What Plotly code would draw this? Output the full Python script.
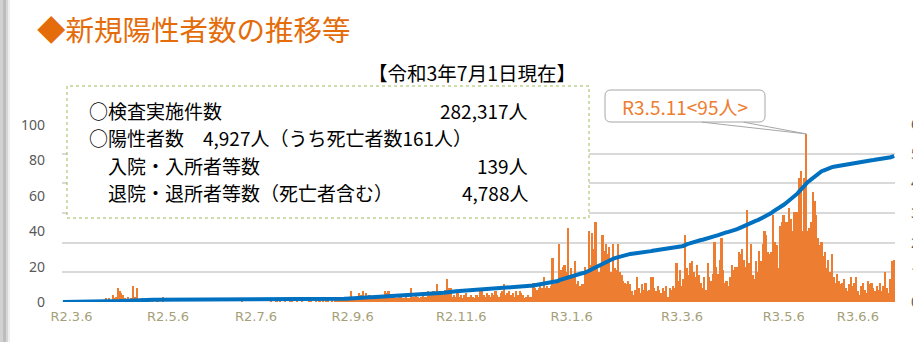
import numpy as np
import pandas as pd
import plotly.graph_objects as go

# Daily new positive cases, one list per month (2020-03-06 .. 2021-07-01)
mar_2020 = [0, 0, 0, 0, 0, 0, 0, 0, 0, 0, 0, 0, 0, 0, 0, 0, 0, 0, 0, 1, 0, 0, 0, 0, 1, 2]
apr_2020 = [1, 2, 1, 4, 2, 3, 8, 6, 5, 4, 2, 1, 3, 1, 2, 9, 3, 8, 1, 0, 2, 1, 0, 1, 1, 0, 1, 0, 0, 1]
may_2020 = [0, 0, 3, 0, 0, 0, 0, 0, 0, 0, 0, 0, 0, 0, 0, 0, 0, 0, 0, 0, 0, 0, 0, 0, 0, 0, 0, 0, 0, 0, 0]
jun_2020 = [0, 0, 0, 0, 0, 0, 0, 0, 0, 0, 0, 0, 0, 0, 0, 0, 0, 1, 0, 0, 0, 0, 0, 0, 0, 0, 0, 0, 0, 0]
jul_2020 = [0, 0, 0, 0, 1, 0, 0, 2, 0, 1, 0, 0, 1, 0, 0, 1, 2, 0, 0, 1, 0, 0, 1, 0, 0, 0, 2, 1, 0, 0, 1]
aug_2020 = [0, 1, 0, 1, 0, 1, 1, 0, 2, 0, 1, 2, 1, 1, 1, 2, 2, 1, 1, 6, 3, 3, 2, 2, 5, 4, 6, 3, 5, 2, 4]
sep_2020 = [2, 3, 2, 3, 3, 2, 2, 3, 6, 5, 6, 2, 2, 3, 2, 2, 3, 3, 2, 2, 3, 2, 2, 8, 3, 3, 4, 3, 2, 3]
oct_2020 = [4, 3, 3, 6, 4, 5, 6, 4, 10, 5, 6, 5, 4, 7, 13, 8, 8, 3, 4, 3, 5, 3, 4, 2, 4, 5, 3, 3, 4, 3, 2]
nov_2020 = [4, 3, 8, 7, 4, 3, 5, 4, 3, 5, 4, 6, 4, 3, 5, 6, 10, 4, 5, 6, 4, 5, 3, 6, 4, 6, 5, 4, 2, 3]
dec_2020 = [4, 3, 3, 11, 8, 7, 8, 9, 8, 14, 8, 9, 8, 9, 25, 10, 12, 11, 33, 18, 20, 21, 17, 42, 13, 19, 15, 23, 10, 12, 9]
jan_2021 = [10, 10, 20, 18, 40, 21, 39, 30, 45, 20, 17, 22, 38, 29, 33, 27, 31, 17, 33, 19, 18, 33, 17, 15, 12, 11, 10, 12, 10, 6, 4]
feb_2021 = [7, 14, 8, 5, 10, 7, 11, 6, 7, 14, 14, 8, 6, 9, 7, 5, 8, 6, 9, 3, 8, 7, 9, 8, 22, 12, 18, 9]
mar_2021 = [13, 38, 19, 15, 22, 23, 17, 14, 21, 15, 11, 8, 14, 7, 22, 14, 12, 16, 34, 20, 16, 24, 36, 18, 11, 12, 9, 14, 21, 18, 20]
apr_2021 = [20, 28, 27, 30, 24, 20, 52, 22, 33, 15, 13, 23, 17, 29, 23, 33, 40, 38, 28, 27, 28, 49, 34, 32, 19, 43, 45, 49, 45, 45]
may_2021 = [53, 47, 40, 51, 51, 51, 70, 74, 40, 70, 95, 40, 42, 45, 62, 57, 49, 36, 32, 34, 26, 28, 19, 24, 17, 27, 14, 11, 16, 12, 10]
jun_2021 = [11, 13, 8, 6, 10, 14, 9, 11, 14, 6, 4, 9, 11, 7, 5, 12, 10, 11, 8, 6, 9, 7, 11, 6, 9, 17, 8, 5, 13, 23]
jul_2021 = [24]

first_day = "2020-03-06"

# x-axis labels (Reiwa dates) and where they sit on the axis
tick_labels = ["R2.3.6", "R2.5.6", "R2.7.6", "R2.9.6", "R2.11.6",
               "R3.1.6", "R3.3.6", "R3.5.6", "R3.6.6"]
tick_dates = ["2020-03-11", "2020-05-06", "2020-06-26", "2020-08-21", "2020-10-23",
              "2020-12-26", "2021-02-28", "2021-04-28", "2021-06-10"]

left_ticks = [0, 20, 40, 60, 80, 100]
right_ticks = [0, 1000, 2000, 3000, 4000, 5000, 6000]

# summary figures shown in the info box
tests_total = 282317
deaths_total = 161
inpatients = 139
discharged = 4788

peak_date = "2021-05-11"
peak_label = "R3.5.11"

daily = np.array(mar_2020 + apr_2020 + may_2020 + jun_2020 + jul_2020 + aug_2020
                 + sep_2020 + oct_2020 + nov_2020 + dec_2020 + jan_2021 + feb_2021
                 + mar_2021 + apr_2021 + may_2021 + jun_2021 + jul_2021)
dates = pd.date_range(first_day, periods=len(daily), freq="D")
cumulative = np.cumsum(daily)
positives_total = int(cumulative[-1])
peak_value = int(daily[list(dates).index(pd.Timestamp(peak_date))])

# plot-area geometry (pixels) and helpers for paper coordinates
W, H = 913, 342
PL, PR, PT, PB = 62, 895, 124, 302


def px(x):
    return (x - PL) / (PR - PL)


def py(y):
    return (PB - y) / (PB - PT)


JP = "Noto Sans CJK JP"
ORANGE = "#ED7D31"

fig = go.Figure()
fig.add_trace(go.Bar(x=dates, y=daily, yaxis="y",
                     marker=dict(color=ORANGE, line=dict(width=0)),
                     hoverinfo="skip"))
fig.add_trace(go.Scatter(x=dates, y=cumulative, yaxis="y2", mode="lines",
                         line=dict(color="#0070C0", width=4),
                         hoverinfo="skip"))

x_start = dates[0] - pd.Timedelta(hours=12)
x_end = dates[-1] + pd.Timedelta(hours=12)

fig.update_layout(
    width=W, height=H,
    margin=dict(l=PL, r=W - PR, t=PT, b=H - PB, pad=0, autoexpand=False),
    paper_bgcolor="white", plot_bgcolor="white",
    showlegend=False, bargap=0,
    xaxis=dict(type="date", range=[x_start, x_end], automargin=False,
               tickmode="array", tickvals=tick_dates, ticktext=tick_labels,
               tickfont=dict(family="DejaVu Sans", size=13, color="#A59F79"),
               showgrid=False, zeroline=False, showline=False, ticks="",
               ticklabelstandoff=5),
    yaxis=dict(range=[0, 100.6], tickmode="array", tickvals=left_ticks,
               automargin=False,
               tickfont=dict(family="Noto Sans", size=14, color="#595959"),
               showgrid=False, zeroline=False, showline=False, ticks="",
               ticklabelstandoff=16),
    yaxis2=dict(range=[0, 6000], overlaying="y", side="right", automargin=False,
                tickmode="array", tickvals=right_ticks, tickformat=",",
                tickfont=dict(family="Noto Sans", size=14, color="#595959"),
                showgrid=True, gridcolor="#D9D9D9", gridwidth=2,
                zeroline=False, showline=False, ticks="",
                ticklabelstandoff=15),
)

shapes = []
# soft grey shadow along the left edge of the slide
for x0, x1, c in [(0, 3, "#D2D2D2"), (3, 6, "#BDBDBD"), (6, 8, "#D6D6D6"), (8, 10, "#EFEFEF")]:
    shapes.append(dict(type="rect", xref="paper", yref="paper",
                       x0=px(x0), x1=px(x1), y0=py(H), y1=py(0),
                       line=dict(width=0), fillcolor=c, layer="above"))
# info box
shapes.append(dict(type="rect", xref="paper", yref="paper",
                   x0=px(67), x1=px(589), y0=py(218), y1=py(86),
                   line=dict(color="#9BBB59", width=1, dash="dot"),
                   fillcolor="white", layer="above"))
# rounded call-out box for the peak day
bx0, bx1, by0, by1, r = 605, 765, 90, 122, 6
path = (f"M {px(bx0 + r)},{py(by0)} L {px(bx1 - r)},{py(by0)} "
        f"Q {px(bx1)},{py(by0)} {px(bx1)},{py(by0 + r)} "
        f"L {px(bx1)},{py(by1 - r)} Q {px(bx1)},{py(by1)} {px(bx1 - r)},{py(by1)} "
        f"L {px(bx0 + r)},{py(by1)} Q {px(bx0)},{py(by1)} {px(bx0)},{py(by1 - r)} "
        f"L {px(bx0)},{py(by0 + r)} Q {px(bx0)},{py(by0)} {px(bx0 + r)},{py(by0)} Z")
shapes.append(dict(type="path", xref="paper", yref="paper", path=path,
                   line=dict(color="#A6A6A6", width=1), fillcolor="white",
                   layer="above"))
fig.update_layout(shapes=shapes)


def label(text, x, y, size, color="black", anchor="left", family=JP):
    fig.add_annotation(text=text, xref="paper", yref="paper",
                       x=px(x), y=py(y), xanchor=anchor, yanchor="middle",
                       showarrow=False,
                       font=dict(family=family, size=size, color=color))


label("◆新規陽性者数の推移等", 35, 28, 28.5, color="#E46C0A")
label("【令和3年7月1日現在】", 366, 72, 19.5)

# info box rows: label on the left, figure right-aligned
BOX_FONT = 19
row_y = [110, 137.5, 165, 192.5]
label("○検査実施件数", 87, row_y[0], BOX_FONT)
label(f"{tests_total:,}人", 530, row_y[0], BOX_FONT, anchor="right")
label(f"○陽性者数\u3000{positives_total:,}人（うち死亡者数{deaths_total}人）",
      87, row_y[1], BOX_FONT)
label("入院・入所者等数", 106, row_y[2], BOX_FONT)
label(f"{inpatients}人", 530, row_y[2], BOX_FONT, anchor="right")
label("退院・退所者等数（死亡者含む）", 106, row_y[3], BOX_FONT)
label(f"{discharged:,}人", 530, row_y[3], BOX_FONT, anchor="right")

label(f"{peak_label}<{peak_value}人>", (bx0 + bx1) / 2, (by0 + by1) / 2, 19,
      color=ORANGE, anchor="center")

# pointer from the call-out to the top of the peak bar
for tail_x in (-106, -64):
    fig.add_annotation(x=peak_date, y=peak_value, xref="x", yref="y",
                       text="", showarrow=True, arrowhead=0, arrowwidth=1,
                       arrowcolor="#A6A6A6", ax=tail_x, ay=-12, standoff=0)

fig.write_html("out.html")
